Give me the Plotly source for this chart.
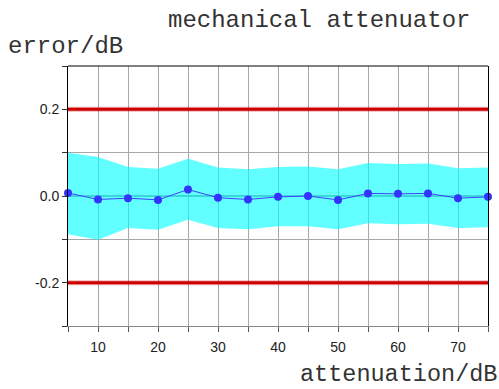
import plotly.graph_objects as go

attenuation = [5, 10, 15, 20, 25, 30, 35, 40, 45, 50, 55, 60, 65, 70, 75]
error = [0.007, -0.008, -0.005, -0.009, 0.015, -0.004, -0.008, -0.002, 0.000, -0.009, 0.006, 0.005, 0.006, -0.005, -0.002]
upper = [0.100, 0.090, 0.067, 0.063, 0.086, 0.066, 0.062, 0.067, 0.068, 0.062, 0.076, 0.074, 0.075, 0.064, 0.066]
lower = [-0.088, -0.101, -0.074, -0.078, -0.055, -0.074, -0.077, -0.070, -0.070, -0.077, -0.063, -0.065, -0.064, -0.074, -0.072]
limit_x = [5, 75]
limit_hi = [0.2, 0.2]
limit_lo = [-0.2, -0.2]

x_ticks = [5, 10, 15, 20, 25, 30, 35, 40, 45, 50, 55, 60, 65, 70, 75]
x_ticktext = ["", "10", "", "20", "", "30", "", "40", "", "50", "", "60", "", "70", ""]
y_ticks = [-0.3, -0.2, -0.1, 0.0, 0.1, 0.2, 0.3]
y_ticktext = ["", "-0.2", "", "0.0", "", "0.2", ""]

fig = go.Figure()

# uncertainty band
fig.add_trace(go.Scatter(x=attenuation, y=upper, mode="lines", line=dict(width=0, color="rgba(0,255,255,0)"),
                         showlegend=False, hoverinfo="skip"))
fig.add_trace(go.Scatter(x=attenuation, y=lower, mode="lines", line=dict(width=0, color="rgba(0,255,255,0)"),
                         fill="tonexty", fillcolor="rgba(0,255,255,0.62)", showlegend=False, hoverinfo="skip"))

# limit lines
for ys in (limit_hi, limit_lo):
    fig.add_trace(go.Scatter(x=limit_x, y=ys, mode="lines", line=dict(width=5, color="rgba(204,0,0,0.3)"),
                             showlegend=False, hoverinfo="skip", cliponaxis=False))
    fig.add_trace(go.Scatter(x=limit_x, y=ys, mode="lines", line=dict(width=3, color="#cc0000"),
                             showlegend=False, hoverinfo="skip", cliponaxis=False))

# measured error
fig.add_trace(go.Scatter(x=attenuation, y=error, mode="lines+markers",
                         line=dict(width=1, color="#4040ff"),
                         marker=dict(size=8, color="#3434ff"),
                         showlegend=False, cliponaxis=False))

mono = "Liberation Mono, Courier New, monospace"
fig.update_layout(
    width=499, height=389,
    margin=dict(l=68, r=11, t=66, b=63),
    paper_bgcolor="white", plot_bgcolor="white",
    font=dict(family="Liberation Sans, Arial, sans-serif", size=14, color="#222222"),
    xaxis=dict(range=[5, 75], tickmode="array", tickvals=x_ticks, ticktext=x_ticktext,
               showgrid=True, gridcolor="#a8a8a8", gridwidth=1, zeroline=False,
               showline=True, linecolor="#888888", linewidth=1, mirror=False,
               ticks="outside", ticklen=5, tickcolor="#555555", tickwidth=1,
               ticklabelstandoff=3),
    yaxis=dict(range=[-0.3, 0.3], tickmode="array", tickvals=y_ticks, ticktext=y_ticktext,
               showgrid=True, gridcolor="#a8a8a8", gridwidth=1,
               zeroline=True, zerolinecolor="#999999", zerolinewidth=2,
               showline=True, linecolor="black", linewidth=1, mirror=True,
               ticks="outside", ticklen=5, tickcolor="#333333", tickwidth=1),
    shapes=[dict(type="line", xref="paper", yref="paper", x0=0, x1=1, y0=1, y1=1,
                 line=dict(color="black", width=1))],
    annotations=[
        dict(text="mechanical attenuator", xref="paper", yref="paper", x=0.233, y=1.175,
             xanchor="left", yanchor="middle", showarrow=False, font=dict(family=mono, size=24, color="#333333")),
        dict(text="error/dB", xref="paper", yref="paper", x=-0.148, y=1.075,
             xanchor="left", yanchor="middle", showarrow=False, font=dict(family=mono, size=24, color="#333333")),
        dict(text="attenuation/dB", xref="paper", yref="paper", x=1.0255, y=-0.185,
             xanchor="right", yanchor="middle", showarrow=False, font=dict(family=mono, size=23.5, color="#333333")),
    ],
)

fig.write_html("out.html")
